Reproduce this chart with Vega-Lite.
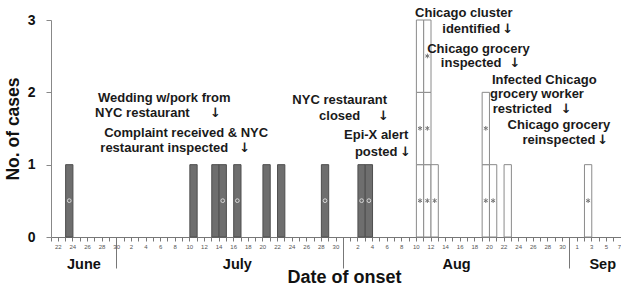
{
  "$schema": "https://vega.github.io/schema/vega-lite/v6.json",
  "width": 570,
  "height": 217,
  "autosize": {"type": "none"},
  "padding": {"left": 51, "top": 20, "right": 0, "bottom": 51},
  "config": {"view": {"stroke": null}, "font": "Liberation Sans"},
  "datasets": {
    "cases": [
      {"id": 1, "date": "06-24", "site": "NYC", "cases": 1, "sign": "circle"},
      {"id": 2, "date": "07-11", "site": "NYC", "cases": 1, "sign": "none"},
      {"id": 3, "date": "07-14", "site": "NYC", "cases": 1, "sign": "none"},
      {"id": 4, "date": "07-15", "site": "NYC", "cases": 1, "sign": "circle"},
      {"id": 5, "date": "07-17", "site": "NYC", "cases": 1, "sign": "circle"},
      {"id": 6, "date": "07-21", "site": "NYC", "cases": 1, "sign": "none"},
      {"id": 7, "date": "07-23", "site": "NYC", "cases": 1, "sign": "none"},
      {"id": 8, "date": "07-29", "site": "NYC", "cases": 1, "sign": "circle"},
      {"id": 9, "date": "08-03", "site": "NYC", "cases": 1, "sign": "circle"},
      {"id": 10, "date": "08-04", "site": "NYC", "cases": 1, "sign": "circle"},
      {"id": 11, "date": "08-11", "site": "Chicago", "cases": 1, "sign": "star"},
      {"id": 12, "date": "08-11", "site": "Chicago", "cases": 1, "sign": "star"},
      {"id": 13, "date": "08-11", "site": "Chicago", "cases": 1, "sign": "none"},
      {"id": 14, "date": "08-12", "site": "Chicago", "cases": 1, "sign": "star"},
      {"id": 15, "date": "08-12", "site": "Chicago", "cases": 1, "sign": "star"},
      {"id": 16, "date": "08-12", "site": "Chicago", "cases": 1, "sign": "star"},
      {"id": 17, "date": "08-13", "site": "Chicago", "cases": 1, "sign": "star"},
      {"id": 18, "date": "08-20", "site": "Chicago", "cases": 1, "sign": "star"},
      {"id": 19, "date": "08-20", "site": "Chicago", "cases": 1, "sign": "star"},
      {"id": 20, "date": "08-21", "site": "Chicago", "cases": 1, "sign": "star"},
      {"id": 21, "date": "08-23", "site": "Chicago", "cases": 1, "sign": "none"},
      {"id": 22, "date": "09-03", "site": "Chicago", "cases": 1, "sign": "star"}
    ],
    "notes": [
      {"text": "Wedding w/pork from", "date": "07-07", "y": 1.92},
      {"text": "NYC restaurant", "date": "07-04", "y": 1.714},
      {"text": "↓", "date": "07-14", "y": 1.714},
      {"text": "Complaint received & NYC", "date": "07-10", "y": 1.438},
      {"text": "restaurant inspected", "date": "07-07", "y": 1.23},
      {"text": "↓", "date": "07-18", "y": 1.23},
      {"text": "NYC restaurant", "date": "07-31", "y": 1.894},
      {"text": "closed", "date": "07-31", "y": 1.673},
      {"text": "↓", "date": "08-06", "y": 1.673},
      {"text": "Epi-X alert", "date": "08-05", "y": 1.41},
      {"text": "posted", "date": "08-05", "y": 1.175},
      {"text": "↓", "date": "08-09", "y": 1.175},
      {"text": "Chicago cluster", "date": "08-17", "y": 3.097},
      {"text": "identified", "date": "08-18", "y": 2.876},
      {"text": "↓", "date": "08-23", "y": 2.876},
      {"text": "Chicago grocery", "date": "08-19", "y": 2.599},
      {"text": "inspected", "date": "08-18", "y": 2.406},
      {"text": "↓", "date": "08-24", "y": 2.406},
      {"text": "Infected Chicago", "date": "08-28", "y": 2.171},
      {"text": "grocery worker", "date": "08-27", "y": 1.977},
      {"text": "restricted", "date": "08-25", "y": 1.77},
      {"text": "↓", "date": "08-31", "y": 1.77},
      {"text": "Chicago grocery", "date": "08-30", "y": 1.548},
      {"text": "reinspected", "date": "08-30", "y": 1.341},
      {"text": "↓", "date": "09-05", "y": 1.341}
    ]
  },
  "resolve": {"axis": {"x": "independent", "y": "independent"}},
  "layer": [
    {
      "data": {"name": "cases"},
      "mark": {"type": "bar", "strokeWidth": 1},
      "encoding": {
        "x": {
          "field": "date", "type": "ordinal",
          "scale": {"paddingInner": 0, "paddingOuter": 0, "domain": ["06-22","06-23","06-24","06-25","06-26","06-27","06-28","06-29","06-30","07-01","07-02","07-03","07-04","07-05","07-06","07-07","07-08","07-09","07-10","07-11","07-12","07-13","07-14","07-15","07-16","07-17","07-18","07-19","07-20","07-21","07-22","07-23","07-24","07-25","07-26","07-27","07-28","07-29","07-30","07-31","08-01","08-02","08-03","08-04","08-05","08-06","08-07","08-08","08-09","08-10","08-11","08-12","08-13","08-14","08-15","08-16","08-17","08-18","08-19","08-20","08-21","08-22","08-23","08-24","08-25","08-26","08-27","08-28","08-29","08-30","08-31","09-01","09-02","09-03","09-04","09-05","09-06","09-07"]},
          "axis": {
            "orient": "bottom",
            "title": "Date of onset", "titleFontSize": 18, "titleFontWeight": "bold", "titleColor": "#111", "titlePadding": -8, "titleX": 293,
            "bandPosition": 0, "labelAngle": 0, "labelOverlap": false,
            "labelOffset": {"condition": {"test": "datum.value == '09-07'", "value": 2}, "value": 3.6},
            "labelExpr": "(toNumber(substring(datum.value,3,5)) % 2) == (substring(datum.value,0,2) == '09' ? 1 : 0) ? '' + toNumber(substring(datum.value,3,5)) : ''",
            "labelFontSize": 6, "labelColor": "#555",
            "labelPadding": {"condition": {"test": "datum.value == '09-01'", "value": -25}, "value": 2},
            "tickSize": {"condition": {"test": "datum.value == '07-01' || datum.value == '08-01' || datum.value == '09-01'", "value": 31}, "value": 4},
            "tickColor": "#777", "domainColor": "#777"
          }
        },
        "y": {
          "field": "cases", "type": "quantitative", "stack": "zero",
          "scale": {"domain": [0, 3]},
          "axis": {"orient": "left", "title": "No. of cases", "titleFontSize": 17.5, "titleFontWeight": "bold", "titleColor": "#111", "titlePadding": 5,
                   "values": [0, 1, 2, 3], "grid": false, "labelFontSize": 14, "labelFontWeight": "bold", "labelColor": "#111",
                   "tickSize": 5, "labelPadding": 11, "tickColor": "#888", "domainColor": "#888"}
        },
        "order": {"field": "id", "type": "quantitative"},
        "fill": {"field": "site", "type": "nominal", "scale": {"domain": ["NYC", "Chicago"], "range": ["#6e6e6e", "#ffffff"]}, "legend": null},
        "stroke": {"field": "site", "type": "nominal", "scale": {"domain": ["NYC", "Chicago"], "range": ["#4e4e4e", "#8a8a8a"]}, "legend": null}
      }
    },
    {
      "data": {"name": "cases"},
      "mark": {"type": "point", "shape": "circle", "filled": false, "size": 14, "strokeWidth": 1, "color": "#d8d8d8", "yOffset": 36},
      "encoding": {
        "x": {
          "field": "date", "type": "ordinal",
          "scale": {"paddingInner": 0, "paddingOuter": 0, "domain": ["06-22","06-23","06-24","06-25","06-26","06-27","06-28","06-29","06-30","07-01","07-02","07-03","07-04","07-05","07-06","07-07","07-08","07-09","07-10","07-11","07-12","07-13","07-14","07-15","07-16","07-17","07-18","07-19","07-20","07-21","07-22","07-23","07-24","07-25","07-26","07-27","07-28","07-29","07-30","07-31","08-01","08-02","08-03","08-04","08-05","08-06","08-07","08-08","08-09","08-10","08-11","08-12","08-13","08-14","08-15","08-16","08-17","08-18","08-19","08-20","08-21","08-22","08-23","08-24","08-25","08-26","08-27","08-28","08-29","08-30","08-31","09-01","09-02","09-03","09-04","09-05","09-06","09-07"]},
          "axis": {
            "orient": "bottom",
            "title": null, "values": ["06-26", "07-17", "08-16", "09-05"], "bandPosition": 0,
            "labelExpr": "substring(datum.value,0,2) == '06' ? 'June' : substring(datum.value,0,2) == '07' ? 'July' : substring(datum.value,0,2) == '08' ? 'Aug' : 'Sep'",
            "ticks": false, "domain": false, "labelAngle": 0, "labelFontSize": 14.5, "labelFontWeight": "bold", "labelColor": "#111", "labelPadding": 20
          }
        },
        "y": {"field": "cases", "type": "quantitative", "stack": "zero", "scale": {"domain": [0, 3]}, "axis": null},
        "order": {"field": "id", "type": "quantitative"},
        "opacity": {"condition": {"test": "datum.sign === 'circle'", "value": 1}, "value": 0}
      }
    },
    {
      "data": {"name": "cases"},
      "mark": {"type": "point", "shape": "M0,-1L0,1M-0.87,-0.5L0.87,0.5M-0.87,0.5L0.87,-0.5", "filled": false, "size": 22, "strokeWidth": 1, "color": "#777777", "yOffset": 36},
      "encoding": {
        "x": {
          "field": "date", "type": "ordinal",
          "scale": {"paddingInner": 0, "paddingOuter": 0, "domain": ["06-22","06-23","06-24","06-25","06-26","06-27","06-28","06-29","06-30","07-01","07-02","07-03","07-04","07-05","07-06","07-07","07-08","07-09","07-10","07-11","07-12","07-13","07-14","07-15","07-16","07-17","07-18","07-19","07-20","07-21","07-22","07-23","07-24","07-25","07-26","07-27","07-28","07-29","07-30","07-31","08-01","08-02","08-03","08-04","08-05","08-06","08-07","08-08","08-09","08-10","08-11","08-12","08-13","08-14","08-15","08-16","08-17","08-18","08-19","08-20","08-21","08-22","08-23","08-24","08-25","08-26","08-27","08-28","08-29","08-30","08-31","09-01","09-02","09-03","09-04","09-05","09-06","09-07"]},
          "axis": null
        },
        "y": {"field": "cases", "type": "quantitative", "stack": "zero", "scale": {"domain": [0, 3]}, "axis": null},
        "order": {"field": "id", "type": "quantitative"},
        "opacity": {"condition": {"test": "datum.sign === 'star'", "value": 1}, "value": 0}
      }
    },
    {
      "data": {"name": "notes"},
      "transform": [{"filter": "datum.text != '↓'"}],
      "mark": {"type": "text", "fontSize": 13, "fontWeight": "bold", "color": "#1a1a1a", "align": "center", "baseline": "middle"},
      "encoding": {
        "x": {
          "field": "date", "type": "ordinal",
          "scale": {"paddingInner": 0, "paddingOuter": 0, "domain": ["06-22","06-23","06-24","06-25","06-26","06-27","06-28","06-29","06-30","07-01","07-02","07-03","07-04","07-05","07-06","07-07","07-08","07-09","07-10","07-11","07-12","07-13","07-14","07-15","07-16","07-17","07-18","07-19","07-20","07-21","07-22","07-23","07-24","07-25","07-26","07-27","07-28","07-29","07-30","07-31","08-01","08-02","08-03","08-04","08-05","08-06","08-07","08-08","08-09","08-10","08-11","08-12","08-13","08-14","08-15","08-16","08-17","08-18","08-19","08-20","08-21","08-22","08-23","08-24","08-25","08-26","08-27","08-28","08-29","08-30","08-31","09-01","09-02","09-03","09-04","09-05","09-06","09-07"]},
          "axis": null
        },
        "y": {"field": "y", "type": "quantitative", "scale": {"domain": [0, 3]}, "axis": null},
        "text": {"field": "text", "type": "nominal"}
      }
    },
    {
      "data": {"name": "notes"},
      "transform": [{"filter": "datum.text == '↓'"}],
      "mark": {"type": "text", "font": "DejaVu Sans", "fontSize": 13, "fontWeight": "bold", "color": "#1a1a1a", "align": "center", "baseline": "middle"},
      "encoding": {
        "x": {
          "field": "date", "type": "ordinal",
          "scale": {"paddingInner": 0, "paddingOuter": 0, "domain": ["06-22","06-23","06-24","06-25","06-26","06-27","06-28","06-29","06-30","07-01","07-02","07-03","07-04","07-05","07-06","07-07","07-08","07-09","07-10","07-11","07-12","07-13","07-14","07-15","07-16","07-17","07-18","07-19","07-20","07-21","07-22","07-23","07-24","07-25","07-26","07-27","07-28","07-29","07-30","07-31","08-01","08-02","08-03","08-04","08-05","08-06","08-07","08-08","08-09","08-10","08-11","08-12","08-13","08-14","08-15","08-16","08-17","08-18","08-19","08-20","08-21","08-22","08-23","08-24","08-25","08-26","08-27","08-28","08-29","08-30","08-31","09-01","09-02","09-03","09-04","09-05","09-06","09-07"]},
          "axis": null
        },
        "y": {"field": "y", "type": "quantitative", "scale": {"domain": [0, 3]}, "axis": null},
        "text": {"field": "text", "type": "nominal"}
      }
    }
  ]
}
